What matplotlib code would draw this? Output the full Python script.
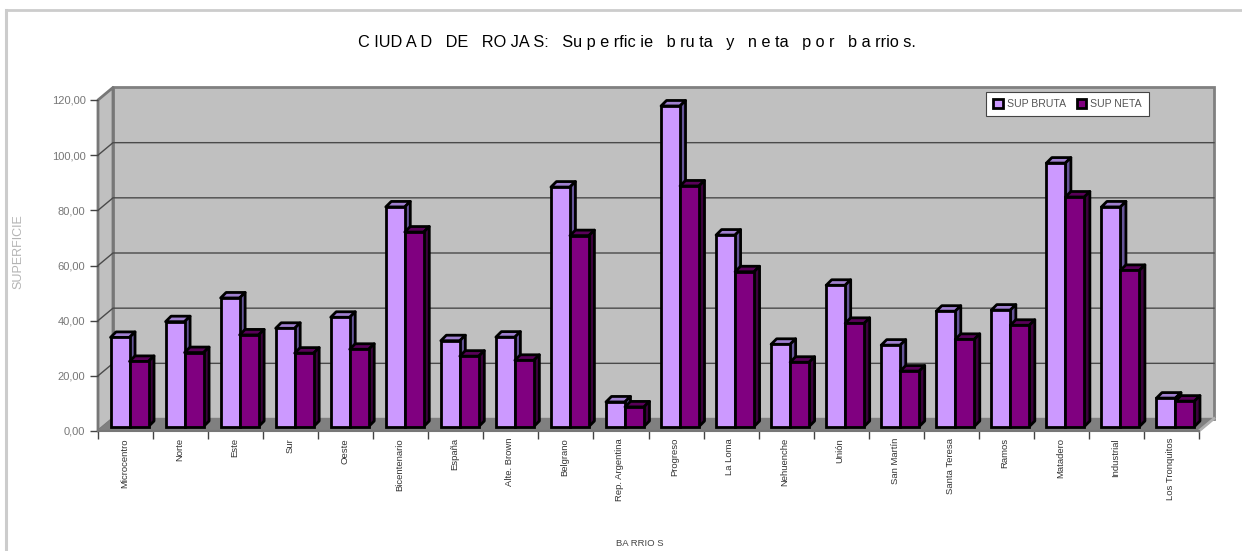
import numpy as np
import matplotlib
matplotlib.use('Agg')
import matplotlib.pyplot as plt
from matplotlib.lines import Line2D
from matplotlib.patches import Polygon, Rectangle

plt.rcParams['font.family'] = ['Liberation Sans', 'DejaVu Sans']

BARRIOS = ['Microcentro', 'Norte', 'Este', 'Sur', 'Oeste', 'Bicentenario', 'España', 'Alte. Brown',
           'Belgrano', 'Rep. Argentina', 'Progreso', 'La Loma', 'Nehuenche', 'Unión', 'San Martín',
           'Santa Teresa', 'Ramos', 'Matadero', 'Industrial', 'Los Tronquitos']
SUP_BRUTA = [32.3, 38.0, 46.6, 35.6, 39.6, 79.6, 31.1, 32.4, 86.8, 8.9,
             116.2, 69.4, 29.8, 51.2, 29.5, 41.8, 42.2, 95.5, 79.6, 10.3]
SUP_NETA = [23.6, 26.8, 33.2, 26.6, 28.0, 70.5, 25.5, 24.0, 69.2, 7.1,
            87.2, 56.1, 23.3, 37.4, 20.1, 31.6, 36.7, 83.2, 56.6, 9.2]
Y_TICKS = [0, 20, 40, 60, 80, 100, 120]

W, H = 1242, 551
PX_X = 1101 / 20.0   # pixels per category
PX_Y = 331 / 120.0   # pixels per unit
WALL_DX, WALL_DY = 15 / PX_X, 12.5 / PX_Y
BAR_DX, BAR_DY = 5.5 / PX_X, 5.5 / PX_Y
SHIFT_X, SHIFT_Y = 4 / PX_X, 4.5 / PX_Y
BAR_W = 0.345
EDGE = 2.0


def draw_walls(ax):
    n = len(BARRIOS)
    top = Y_TICKS[-1]
    ax.add_patch(Rectangle((WALL_DX, WALL_DY), n, top, fc='#c0c0c0', ec='#808080', lw=2, zorder=1))
    ax.add_patch(Polygon([(0, 0), (WALL_DX, WALL_DY), (WALL_DX, top + WALL_DY), (0, top)],
                         fc='#c0c0c0', ec='#777777', lw=2, zorder=1, joinstyle='round'))
    ax.add_patch(Polygon([(0, 0), (n, 0), (n + WALL_DX, WALL_DY), (WALL_DX, WALL_DY)],
                         fc='#808080', ec='#808080', lw=1, zorder=2, joinstyle='round'))
    for t in Y_TICKS[1:-1]:
        ax.plot([0, WALL_DX, n + WALL_DX], [t, t + WALL_DY, t + WALL_DY], color='#4a4a4a', lw=1, zorder=2)
    ax.plot([n, n + WALL_DX], [0, WALL_DY], color='#b0b0b0', lw=2, zorder=2)


def draw_bars(ax, left, vals, front, topc, sidec, z):
    bars = ax.bar(left, vals, BAR_W, bottom=SHIFT_Y, align='edge', color=front, edgecolor='black',
                  linewidth=EDGE, zorder=z + 1)
    for x, v in zip(left, vals):
        y1 = v + SHIFT_Y
        ax.add_patch(Polygon([(x, y1), (x + BAR_W, y1), (x + BAR_W + BAR_DX, y1 + BAR_DY), (x + BAR_DX, y1 + BAR_DY)],
                             fc=topc, ec='black', lw=EDGE, zorder=z, joinstyle='round'))
        ax.add_patch(Polygon([(x + BAR_W, SHIFT_Y), (x + BAR_W + BAR_DX, SHIFT_Y + BAR_DY),
                              (x + BAR_W + BAR_DX, y1 + BAR_DY), (x + BAR_W, y1)],
                             fc=sidec, ec='black', lw=EDGE, zorder=z, joinstyle='round'))
    return bars


fig = plt.figure(figsize=(W / 100, H / 100), dpi=100)
ax = fig.add_axes([98 / W, (H - 431) / H, 1101 / W, 331 / H])
ax.set_xlim(0, len(BARRIOS))
ax.set_ylim(0, Y_TICKS[-1])
ax.patch.set_visible(False)
for sp in ax.spines.values():
    sp.set_visible(False)

draw_walls(ax)
xs = np.arange(len(BARRIOS)) + 0.5 + SHIFT_X
b1 = draw_bars(ax, xs - BAR_W, SUP_BRUTA, '#cc99ff', '#a080d0', '#665599', 5)
b2 = draw_bars(ax, xs, SUP_NETA, '#800080', '#5a005a', '#3c003c', 7)
for artist in ax.patches + ax.lines:
    artist.set_clip_on(False)

ax.set_yticks(Y_TICKS)
ax.set_yticklabels(['{:.2f}'.format(t).replace('.', ',') for t in Y_TICKS], fontsize=8, color='#777777')
ax.set_xticks(np.arange(len(BARRIOS) + 1))
ax.set_xticklabels([''] * (len(BARRIOS) + 1))
ax.tick_params(axis='both', length=6, width=1, color='#444444', pad=3)
ax.plot([0, len(BARRIOS)], [0, 0], color='#777777', lw=1.5, zorder=3, clip_on=False)

for i, name in enumerate(BARRIOS):
    ax.annotate(name, (i + 0.48, 0), xytext=(0, -7), textcoords='offset pixels', rotation=90,
                ha='center', va='top', fontsize=6.8, color='#333333', annotation_clip=False)

fig.text(637 / W, 1 - 42 / H, 'C IUD A D   DE   RO JA S:   Su p e rfic ie   b ru ta   y   n e ta   p o r   b a rrio s.',
         ha='center', va='center', fontsize=11.7, color='black')
fig.text(640 / W, 1 - 544 / H, 'BA RRIO S', ha='center', va='center', fontsize=6.8, color='#444444')
fig.text(18 / W, 1 - 252 / H, 'SUPERFICIE', rotation=90, ha='center', va='center', fontsize=9, color='#b4b4b4')

leg = fig.legend([b1[0], b2[0]], ['SUP BRUTA', 'SUP NETA'], ncol=2, loc='center',
                 bbox_to_anchor=(1067.5 / W, 1 - 104 / H), fontsize=7.6, fancybox=False, framealpha=1,
                 edgecolor='#444444', handlelength=0.9, handleheight=0.9, handletextpad=0.4,
                 columnspacing=1.0, labelcolor='#555555', borderpad=0.7)
leg.get_frame().set_linewidth(0.8)
leg.set_zorder(20)

# outer chart frame, only left and top show in the original
fig.add_artist(Line2D([6 / W, 6 / W], [0, 1 - 10 / H], color='#cccccc', lw=2.2))
fig.add_artist(Line2D([6 / W, 1], [1 - 10 / H, 1 - 10 / H], color='#cccccc', lw=2))

fig.savefig('out.png', dpi=100)
